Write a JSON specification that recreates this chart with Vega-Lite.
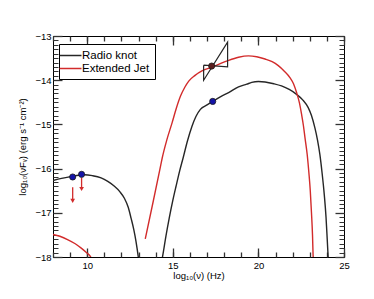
{
  "$schema": "https://vega.github.io/schema/vega-lite/v6.json",
  "width": 291,
  "height": 221,
  "autosize": {"type": "none"},
  "padding": {"left": 53, "top": 36, "right": 30, "bottom": 42},
  "config": {
    "font": "Liberation Sans",
    "view": {"stroke": "black", "strokeWidth": 1},
    "axis": {"grid": false, "domain": false, "labelColor": "black", "titleColor": "black", "labelFontSize": 9.5, "titleFontSize": 9.5, "titleFontWeight": "normal", "labelFlush": false, "labelOverlap": false}
  },
  "datasets": {
    "curves": [
      {"series": "Radio knot", "seg": "k1", "i": 1, "x": 8.0, "y": -16.27},
      {"series": "Radio knot", "seg": "k1", "i": 2, "x": 8.5, "y": -16.22},
      {"series": "Radio knot", "seg": "k1", "i": 3, "x": 9.07, "y": -16.18},
      {"series": "Radio knot", "seg": "k1", "i": 4, "x": 9.5, "y": -16.15},
      {"series": "Radio knot", "seg": "k1", "i": 5, "x": 9.84, "y": -16.14},
      {"series": "Radio knot", "seg": "k1", "i": 6, "x": 10.3, "y": -16.16},
      {"series": "Radio knot", "seg": "k1", "i": 7, "x": 10.81, "y": -16.21},
      {"series": "Radio knot", "seg": "k1", "i": 8, "x": 11.2, "y": -16.29},
      {"series": "Radio knot", "seg": "k1", "i": 9, "x": 11.59, "y": -16.4},
      {"series": "Radio knot", "seg": "k1", "i": 10, "x": 11.9, "y": -16.52},
      {"series": "Radio knot", "seg": "k1", "i": 11, "x": 12.17, "y": -16.67},
      {"series": "Radio knot", "seg": "k1", "i": 12, "x": 12.4, "y": -16.88},
      {"series": "Radio knot", "seg": "k1", "i": 13, "x": 12.56, "y": -17.12},
      {"series": "Radio knot", "seg": "k1", "i": 14, "x": 12.72, "y": -17.38},
      {"series": "Radio knot", "seg": "k1", "i": 15, "x": 12.85, "y": -17.65},
      {"series": "Radio knot", "seg": "k1", "i": 16, "x": 12.98, "y": -17.99},
      {"series": "Radio knot", "seg": "k1", "i": 17, "x": 13.0, "y": -18.05},
      {"series": "Radio knot", "seg": "k2", "i": 1, "x": 14.37, "y": -18.05},
      {"series": "Radio knot", "seg": "k2", "i": 2, "x": 14.4, "y": -17.99},
      {"series": "Radio knot", "seg": "k2", "i": 3, "x": 14.6, "y": -17.52},
      {"series": "Radio knot", "seg": "k2", "i": 4, "x": 14.79, "y": -17.12},
      {"series": "Radio knot", "seg": "k2", "i": 5, "x": 15.0, "y": -16.72},
      {"series": "Radio knot", "seg": "k2", "i": 6, "x": 15.2, "y": -16.38},
      {"series": "Radio knot", "seg": "k2", "i": 7, "x": 15.4, "y": -16.05},
      {"series": "Radio knot", "seg": "k2", "i": 8, "x": 15.6, "y": -15.76},
      {"series": "Radio knot", "seg": "k2", "i": 9, "x": 15.85, "y": -15.38},
      {"series": "Radio knot", "seg": "k2", "i": 10, "x": 16.12, "y": -15.04},
      {"series": "Radio knot", "seg": "k2", "i": 11, "x": 16.35, "y": -14.82},
      {"series": "Radio knot", "seg": "k2", "i": 12, "x": 16.61, "y": -14.66},
      {"series": "Radio knot", "seg": "k2", "i": 13, "x": 17.0, "y": -14.56},
      {"series": "Radio knot", "seg": "k2", "i": 14, "x": 17.33, "y": -14.48},
      {"series": "Radio knot", "seg": "k2", "i": 15, "x": 17.8, "y": -14.37},
      {"series": "Radio knot", "seg": "k2", "i": 16, "x": 18.26, "y": -14.28},
      {"series": "Radio knot", "seg": "k2", "i": 17, "x": 18.84, "y": -14.15},
      {"series": "Radio knot", "seg": "k2", "i": 18, "x": 19.32, "y": -14.09},
      {"series": "Radio knot", "seg": "k2", "i": 19, "x": 19.61, "y": -14.05},
      {"series": "Radio knot", "seg": "k2", "i": 20, "x": 20.0, "y": -14.03},
      {"series": "Radio knot", "seg": "k2", "i": 21, "x": 20.39, "y": -14.04},
      {"series": "Radio knot", "seg": "k2", "i": 22, "x": 20.9, "y": -14.08},
      {"series": "Radio knot", "seg": "k2", "i": 23, "x": 21.35, "y": -14.13},
      {"series": "Radio knot", "seg": "k2", "i": 24, "x": 21.8, "y": -14.21},
      {"series": "Radio knot", "seg": "k2", "i": 25, "x": 22.23, "y": -14.32},
      {"series": "Radio knot", "seg": "k2", "i": 26, "x": 22.6, "y": -14.45},
      {"series": "Radio knot", "seg": "k2", "i": 27, "x": 22.91, "y": -14.62},
      {"series": "Radio knot", "seg": "k2", "i": 28, "x": 23.1, "y": -14.8},
      {"series": "Radio knot", "seg": "k2", "i": 29, "x": 23.3, "y": -15.08},
      {"series": "Radio knot", "seg": "k2", "i": 30, "x": 23.45, "y": -15.35},
      {"series": "Radio knot", "seg": "k2", "i": 31, "x": 23.59, "y": -15.68},
      {"series": "Radio knot", "seg": "k2", "i": 32, "x": 23.72, "y": -16.1},
      {"series": "Radio knot", "seg": "k2", "i": 33, "x": 23.85, "y": -16.6},
      {"series": "Radio knot", "seg": "k2", "i": 34, "x": 23.95, "y": -17.1},
      {"series": "Radio knot", "seg": "k2", "i": 35, "x": 24.02, "y": -17.6},
      {"series": "Radio knot", "seg": "k2", "i": 36, "x": 24.08, "y": -18.05},
      {"series": "Extended Jet", "seg": "e1", "i": 1, "x": 8.0, "y": -17.49},
      {"series": "Extended Jet", "seg": "e1", "i": 2, "x": 8.4, "y": -17.53},
      {"series": "Extended Jet", "seg": "e1", "i": 3, "x": 8.88, "y": -17.61},
      {"series": "Extended Jet", "seg": "e1", "i": 4, "x": 9.3, "y": -17.7},
      {"series": "Extended Jet", "seg": "e1", "i": 5, "x": 9.65, "y": -17.8},
      {"series": "Extended Jet", "seg": "e1", "i": 6, "x": 9.95, "y": -17.9},
      {"series": "Extended Jet", "seg": "e1", "i": 7, "x": 10.19, "y": -17.99},
      {"series": "Extended Jet", "seg": "e1", "i": 8, "x": 10.23, "y": -18.05},
      {"series": "Extended Jet", "seg": "e2", "i": 1, "x": 13.39, "y": -17.59},
      {"series": "Extended Jet", "seg": "e2", "i": 2, "x": 13.85, "y": -16.75},
      {"series": "Extended Jet", "seg": "e2", "i": 3, "x": 14.3, "y": -15.91},
      {"series": "Extended Jet", "seg": "e2", "i": 4, "x": 14.38, "y": -15.76},
      {"series": "Extended Jet", "seg": "e2", "i": 5, "x": 14.65, "y": -15.35},
      {"series": "Extended Jet", "seg": "e2", "i": 6, "x": 14.96, "y": -14.96},
      {"series": "Extended Jet", "seg": "e2", "i": 7, "x": 15.2, "y": -14.64},
      {"series": "Extended Jet", "seg": "e2", "i": 8, "x": 15.45, "y": -14.36},
      {"series": "Extended Jet", "seg": "e2", "i": 9, "x": 15.7, "y": -14.16},
      {"series": "Extended Jet", "seg": "e2", "i": 10, "x": 15.93, "y": -14.02},
      {"series": "Extended Jet", "seg": "e2", "i": 11, "x": 16.3, "y": -13.89},
      {"series": "Extended Jet", "seg": "e2", "i": 12, "x": 16.7, "y": -13.79},
      {"series": "Extended Jet", "seg": "e2", "i": 13, "x": 17.33, "y": -13.7},
      {"series": "Extended Jet", "seg": "e2", "i": 14, "x": 17.8, "y": -13.62},
      {"series": "Extended Jet", "seg": "e2", "i": 15, "x": 18.26, "y": -13.55},
      {"series": "Extended Jet", "seg": "e2", "i": 16, "x": 18.84, "y": -13.48},
      {"series": "Extended Jet", "seg": "e2", "i": 17, "x": 19.42, "y": -13.45},
      {"series": "Extended Jet", "seg": "e2", "i": 18, "x": 19.9, "y": -13.47},
      {"series": "Extended Jet", "seg": "e2", "i": 19, "x": 20.39, "y": -13.52},
      {"series": "Extended Jet", "seg": "e2", "i": 20, "x": 20.8, "y": -13.58},
      {"series": "Extended Jet", "seg": "e2", "i": 21, "x": 21.16, "y": -13.67},
      {"series": "Extended Jet", "seg": "e2", "i": 22, "x": 21.5, "y": -13.79},
      {"series": "Extended Jet", "seg": "e2", "i": 23, "x": 21.84, "y": -13.94},
      {"series": "Extended Jet", "seg": "e2", "i": 24, "x": 22.05, "y": -14.08},
      {"series": "Extended Jet", "seg": "e2", "i": 25, "x": 22.23, "y": -14.28},
      {"series": "Extended Jet", "seg": "e2", "i": 26, "x": 22.4, "y": -14.52},
      {"series": "Extended Jet", "seg": "e2", "i": 27, "x": 22.52, "y": -14.77},
      {"series": "Extended Jet", "seg": "e2", "i": 28, "x": 22.63, "y": -15.03},
      {"series": "Extended Jet", "seg": "e2", "i": 29, "x": 22.72, "y": -15.3},
      {"series": "Extended Jet", "seg": "e2", "i": 30, "x": 22.85, "y": -15.68},
      {"series": "Extended Jet", "seg": "e2", "i": 31, "x": 22.95, "y": -16.1},
      {"series": "Extended Jet", "seg": "e2", "i": 32, "x": 23.03, "y": -16.5},
      {"series": "Extended Jet", "seg": "e2", "i": 33, "x": 23.1, "y": -17.0},
      {"series": "Extended Jet", "seg": "e2", "i": 34, "x": 23.16, "y": -17.5},
      {"series": "Extended Jet", "seg": "e2", "i": 35, "x": 23.2, "y": -18.0},
      {"series": "Extended Jet", "seg": "e2", "i": 36, "x": 23.21, "y": -18.05}
    ],
    "bowtie": [
      {"i": 1, "x": 16.8, "y": -13.66},
      {"i": 2, "x": 18.2, "y": -13.7},
      {"i": 3, "x": 18.2, "y": -13.14},
      {"i": 4, "x": 16.8, "y": -14.0},
      {"i": 5, "x": 16.8, "y": -13.66}
    ],
    "limits": [
      {"x": 9.15, "y": -16.42, "y2": -16.7, "tip": -16.73},
      {"x": 9.67, "y": -16.21, "y2": -16.43, "tip": -16.46}
    ],
    "dots": [
      {"kind": "radio", "x": 9.15, "y": -16.19},
      {"kind": "radio", "x": 9.67, "y": -16.13},
      {"kind": "radio", "x": 17.33, "y": -14.48},
      {"kind": "xray", "x": 17.27, "y": -13.68}
    ]
  },
  "layer": [
    {
      "data": {"name": "curves"},
      "mark": {"type": "line", "interpolate": "monotone", "strokeWidth": 1.4, "clip": true},
      "encoding": {
        "x": {"field": "x", "type": "quantitative", "scale": {"domain": [8, 25], "nice": false, "zero": false},
          "axis": {"orient": "bottom", "title": "log₁₀(ν) (Hz)", "values": [10, 15, 20, 25], "format": "d", "tickColor": "#333333", "tickWidth": 1.3,
            "offset": -9, "tickSize": 9, "labelPadding": 3, "titlePadding": 1}},
        "y": {"field": "y", "type": "quantitative", "scale": {"domain": [-18, -13], "nice": false, "zero": false},
          "axis": {"orient": "left", "title": "log₁₀(νFᵥ) (erg s⁻¹ cm⁻²)", "values": [-18, -17, -16, -15, -14, -13], "format": "d", "tickColor": "#333333", "tickWidth": 1.3,
            "offset": -9, "tickSize": 9, "labelPadding": 2, "titlePadding": 7}},
        "color": {"field": "series", "type": "nominal", "scale": {"domain": ["Radio knot", "Extended Jet"], "range": ["#262626", "#d22b2b"]},
          "legend": {"title": null, "orient": "none", "legendX": 6, "legendY": 8, "direction": "vertical", "symbolType": "M-2,0L2,0", "symbolSize": 121, "symbolStrokeWidth": 1.5, "labelFontSize": 11.5, "labelColor": "black", "labelOffset": 5, "padding": 5, "rowPadding": 1, "strokeColor": "black", "fillColor": "white",
            "labelExpr": "datum.label + '\u00a0\u00a0\u00a0\u00a0\u00a0\u00a0\u00a0'"}},
        "detail": {"field": "seg"},
        "order": {"field": "i", "type": "quantitative"}
      }
    },
    {
      "data": {"name": "bowtie"},
      "mark": {"type": "line", "color": "#262626", "strokeWidth": 1.2},
      "encoding": {
        "x": {"field": "x", "type": "quantitative",
          "axis": {"orient": "top", "title": null, "labels": false, "values": [10, 15, 20, 25], "offset": -9, "tickSize": 9, "tickColor": "#333333", "tickWidth": 1.3}},
        "y": {"field": "y", "type": "quantitative",
          "axis": {"orient": "right", "title": null, "labels": false, "values": [-18, -17, -16, -15, -14, -13], "offset": -9, "tickSize": 9, "tickColor": "#333333", "tickWidth": 1.3}},
        "order": {"field": "i", "type": "quantitative"}
      }
    },
    {
      "data": {"name": "limits"},
      "mark": {"type": "rule", "color": "#d22b2b", "strokeWidth": 1.3},
      "encoding": {
        "x": {"field": "x", "type": "quantitative",
          "axis": {"orient": "bottom", "title": null, "labels": false, "values": [8,9,10,11,12,13,14,15,16,17,18,19,20,21,22,23,24,25], "offset": -5, "tickSize": 5, "tickColor": "#333333", "tickWidth": 1.3}},
        "y": {"field": "y", "type": "quantitative",
          "axis": {"orient": "left", "title": null, "labels": false, "values": [-18,-17.9,-17.8,-17.7,-17.6,-17.5,-17.4,-17.3,-17.2,-17.1,-17,-16.9,-16.8,-16.7,-16.6,-16.5,-16.4,-16.3,-16.2,-16.1,-16,-15.9,-15.8,-15.7,-15.6,-15.5,-15.4,-15.3,-15.2,-15.1,-15,-14.9,-14.8,-14.7,-14.6,-14.5,-14.4,-14.3,-14.2,-14.1,-14,-13.9,-13.8,-13.7,-13.6,-13.5,-13.4,-13.3,-13.2,-13.1,-13], "offset": -5, "tickSize": 5, "tickColor": "#333333", "tickWidth": 1}},
        "y2": {"field": "y2"}
      }
    },
    {
      "data": {"name": "limits"},
      "mark": {"type": "point", "shape": "triangle-down", "filled": true, "color": "#d22b2b", "size": 22, "opacity": 1},
      "encoding": {
        "x": {"field": "x", "type": "quantitative",
          "axis": {"orient": "top", "title": null, "labels": false, "values": [8,9,10,11,12,13,14,15,16,17,18,19,20,21,22,23,24,25], "offset": -5, "tickSize": 5, "tickColor": "#333333", "tickWidth": 1.3}},
        "y": {"field": "tip", "type": "quantitative",
          "axis": {"orient": "right", "title": null, "labels": false, "values": [-18,-17.9,-17.8,-17.7,-17.6,-17.5,-17.4,-17.3,-17.2,-17.1,-17,-16.9,-16.8,-16.7,-16.6,-16.5,-16.4,-16.3,-16.2,-16.1,-16,-15.9,-15.8,-15.7,-15.6,-15.5,-15.4,-15.3,-15.2,-15.1,-15,-14.9,-14.8,-14.7,-14.6,-14.5,-14.4,-14.3,-14.2,-14.1,-14,-13.9,-13.8,-13.7,-13.6,-13.5,-13.4,-13.3,-13.2,-13.1,-13], "offset": -5, "tickSize": 5, "tickColor": "#333333", "tickWidth": 1}}
      }
    },
    {
      "data": {"name": "dots"},
      "mark": {"type": "circle", "size": 38, "opacity": 1, "stroke": "#1a1a1a", "strokeWidth": 0.8},
      "encoding": {
        "x": {"field": "x", "type": "quantitative", "axis": null},
        "y": {"field": "y", "type": "quantitative", "axis": null},
        "fill": {"field": "kind", "type": "nominal", "scale": {"domain": ["radio", "xray"], "range": ["#1414a8", "#5a1e1e"]}, "legend": null}
      }
    }
  ],
  "resolve": {"axis": {"x": "independent", "y": "independent"}}
}
